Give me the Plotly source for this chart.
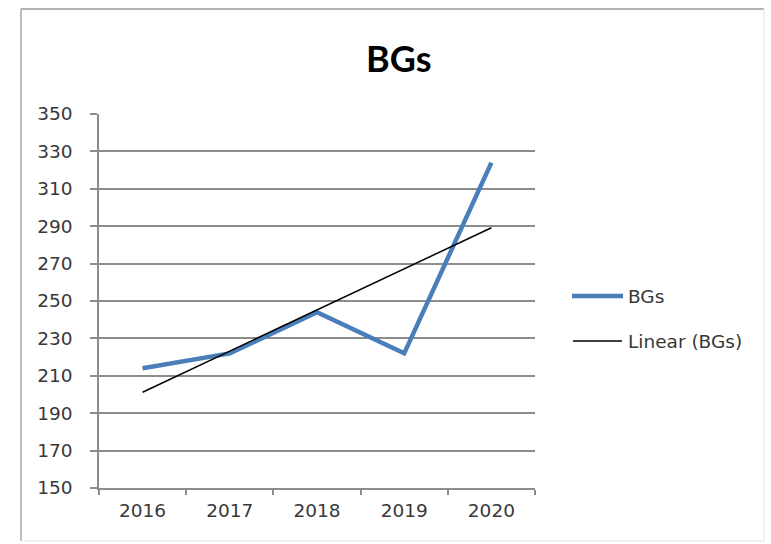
import numpy as np
import plotly.graph_objects as go

# Chart data
years = ["2016", "2017", "2018", "2019", "2020"]
bgs = [214, 222, 244, 222, 324]
y_ticks = [150, 170, 190, 210, 230, 250, 270, 290, 310, 330, 350]

# Least-squares linear trend over the category index (Excel-style "Linear" trendline)
idx = np.arange(1, len(years) + 1)
slope, intercept = np.polyfit(idx, bgs, 1)
trend = slope * idx + intercept

W, H = 771, 544
L, R, T, B = 99, 236, 114, 56
PW, PH = W - L - R, H - T - B


def px(x):
    return (x - L) / PW


def py(y):
    return (H - B - y) / PH


BLUE = "#4A7EBB"
GRID = "#8C8C8C"
TEXT = "#383838"
FONT = "DejaVu Sans"
FS = 18.5

fig = go.Figure()
fig.add_trace(go.Scatter(x=years, y=bgs, mode="lines", name="BGs",
                         line=dict(color=BLUE, width=4.5)))
fig.add_trace(go.Scatter(x=years, y=trend, mode="lines", name="Linear (BGs)",
                         line=dict(color="#000000", width=1.5)))

shapes = [
    # chart frame
    dict(type="line", xref="paper", yref="paper", x0=px(21), x1=px(764), y0=py(9), y1=py(9),
         line=dict(color="#9a9a9a", width=1.5)),
    dict(type="line", xref="paper", yref="paper", x0=px(21), x1=px(21), y0=py(9), y1=py(541),
         line=dict(color="#a8a8a8", width=1.5)),
    dict(type="line", xref="paper", yref="paper", x0=px(764), x1=px(764), y0=py(9), y1=py(541),
         line=dict(color="#ececec", width=1.5)),
    dict(type="line", xref="paper", yref="paper", x0=px(21), x1=px(764), y0=py(541), y1=py(541),
         line=dict(color="#ececec", width=1.5)),
    # legend keys
    dict(type="line", xref="paper", yref="paper", x0=px(572), x1=px(623), y0=py(296), y1=py(296),
         line=dict(color=BLUE, width=4.5)),
    dict(type="line", xref="paper", yref="paper", x0=px(573), x1=px(622), y0=py(341), y1=py(341),
         line=dict(color="#000000", width=1.5)),
]

annotations = [
    dict(text="<b>BGs</b>", xref="paper", yref="paper", x=px(398), y=py(58),
         xanchor="center", yanchor="middle", showarrow=False,
         font=dict(family="Lato", size=36, color="#000000")),
    dict(text="BGs", xref="paper", yref="paper", x=px(626), y=py(296),
         xanchor="left", yanchor="middle", showarrow=False,
         font=dict(family=FONT, size=FS, color=TEXT)),
    dict(text="Linear (BGs)", xref="paper", yref="paper", x=px(626), y=py(341),
         xanchor="left", yanchor="middle", showarrow=False,
         font=dict(family=FONT, size=FS, color=TEXT)),
]

fig.update_layout(
    width=W, height=H,
    margin=dict(l=L, r=R, t=T, b=B, pad=0),
    paper_bgcolor="#ffffff", plot_bgcolor="#ffffff",
    showlegend=False,
    shapes=shapes,
    annotations=annotations,
    font=dict(family=FONT, size=FS, color=TEXT),
)

fig.update_xaxes(
    type="category", categoryorder="array", categoryarray=years,
    range=[-0.5, len(years) - 0.5],
    showgrid=False, zeroline=False,
    showline=True, linecolor=GRID, linewidth=1.5,
    ticks="outside", tickson="boundaries", ticklen=5, tickwidth=1.5, tickcolor=GRID,
    ticklabelstandoff=5,
    tickfont=dict(family=FONT, size=FS, color=TEXT),
)

fig.update_yaxes(
    range=[150, 350], tickvals=y_ticks,
    showgrid=True, gridcolor=GRID, gridwidth=1.5, zeroline=False,
    showline=True, linecolor=GRID, linewidth=1.5,
    ticks="outside", ticklen=7, tickwidth=1.5, tickcolor=GRID,
    ticklabelstandoff=14,
    tickfont=dict(family=FONT, size=FS, color=TEXT),
)

fig.write_html("out.html")
